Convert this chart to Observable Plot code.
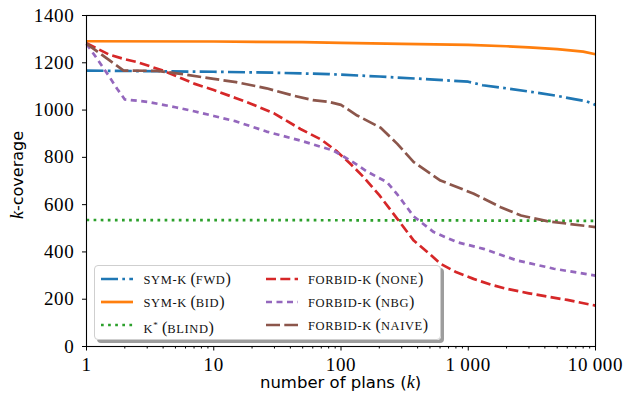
<!DOCTYPE html>
<html><head><meta charset="utf-8">
<script src="https://cdn.jsdelivr.net/npm/d3@7"></script>
<script src="https://cdn.jsdelivr.net/npm/@observablehq/plot@0.6"></script>
<style>
body{margin:0;background:#fff;}
#wrap{position:relative;width:624px;height:403px;overflow:hidden;}
#wrap > svg{position:absolute;left:0;top:0;}
#wrap > svg g[aria-label$="tick label"] text{letter-spacing:0.7px;}
.xlab{position:absolute;left:0;width:681px;top:372px;text-align:center;font-family:"DejaVu Sans";font-size:16.5px;line-height:20px;color:#000;}
.ylab{position:absolute;left:17px;top:175px;transform:translate(-50%,-50%) rotate(-90deg);white-space:nowrap;font-family:"DejaVu Sans";font-size:16px;line-height:20px;color:#000;}
.mk{font-family:"Liberation Serif";font-style:italic;font-size:18px;}
#legend{position:absolute;left:94px;top:265px;width:345px;height:73px;border:1px solid #cfcfcf;border-radius:4px;background:rgba(255,255,255,0.85);box-shadow:3px 3px 0 #9d9d9d;}
.item{position:absolute;height:20px;}
.item svg{position:absolute;left:0;top:7px;}
.item span.t{position:absolute;top:0;white-space:nowrap;font-family:"Liberation Serif";font-size:12.5px;letter-spacing:0.6px;line-height:20px;color:#111;}
.item span.p{font-size:16px;letter-spacing:0;}
</style></head><body><div id="wrap"></div>
<script>
// ---- data ----
const symFwdK = [1, 10, 30, 80, 200, 500, 1000, 1300, 2000, 3300, 5000, 6800, 8500, 10000];
const symFwdV = [1167, 1162, 1158, 1152, 1142, 1130, 1120, 1105, 1092, 1075, 1060, 1046, 1037, 1022];

const symBidK = [1, 10, 50, 100, 300, 1000, 2000, 3000, 5000, 8000, 10000];
const symBidV = [1291, 1290, 1287, 1284, 1280, 1276, 1270, 1265, 1258, 1247, 1236];

const blindK = [1, 100, 1000, 10000];
const blindV = [535, 534, 533, 531];

const noneK = [1, 1.5, 2, 2.5, 4, 7, 10, 15, 20, 30, 48, 70, 93, 120, 151, 200, 277, 373, 500, 605, 800, 1100, 1500, 2000, 3000, 4400, 6000, 10000];
const noneV = [1283, 1235, 1215, 1203, 1167, 1112, 1085, 1050, 1025, 985, 920, 875, 825, 770, 716, 640, 540, 448, 390, 350, 315, 286, 262, 244, 225, 209, 197, 173];

const nbgK = [1, 1.2, 1.5, 1.74, 2, 3, 5, 7, 10, 15, 26, 48, 87, 100, 120, 160, 230, 280, 373, 535, 820, 1320, 2420, 4700, 10000];
const nbgV = [1280, 1220, 1144, 1090, 1045, 1035, 1012, 995, 975, 952, 909, 871, 829, 810, 785, 740, 695, 640, 550, 484, 441, 413, 364, 329, 300];

const naiveK = [1, 1.5, 1.96, 3.6, 5.5, 10, 15, 26, 43, 60, 80, 100, 134, 205, 277, 373, 605, 1106, 1800, 2600, 4170, 10000];
const naiveV = [1281, 1212, 1167, 1166, 1153, 1132, 1118, 1092, 1060, 1042, 1035, 1022, 977, 925, 857, 780, 702, 646, 589, 554, 530, 505];

const seriesNames = ["SYM-K|FWD", "SYM-K|BID", "K*|BLIND", "FORBID-K|NONE", "FORBID-K|NBG", "FORBID-K|NAIVE"];
const seriesColors = ["#1f77b4", "#ff7f0e", "#2ca02c", "#d62728", "#9467bd", "#8c564b"];
const seriesDash = ["17,4.3,2.7,4.3", "none", "2.7,4.4", "10,4.3", "6,4.5", "14,4.3"];

const yTicks = [0, 200, 400, 600, 800, 1000, 1200, 1400];
const xTicks = [1, 10, 100, 1000, 10000];
const xTickLabels = ["1", "10", "100", "1\u2009000", "10\u2009000"];
const xMinor = [2,3,4,5,6,7,8,9,20,30,40,50,60,70,80,90,200,300,400,500,600,700,800,900,2000,3000,4000,5000,6000,7000,8000,9000];

// ---- build ----
const ks = [symFwdK, symBidK, blindK, noneK, nbgK, naiveK];
const vs = [symFwdV, symBidV, blindV, noneV, nbgV, naiveV];
const tables = ks.map((kArr, i) => kArr.map((k, j) => ({k, v: vs[i][j]})));
const xLabelMap = new Map(xTicks.map((t, i) => [t, xTickLabels[i]]));

const chart = Plot.plot({
  width: 624, height: 403,
  marginLeft: 86, marginRight: 29, marginTop: 15, marginBottom: 57,
  x: {type: "log", domain: [1, 10000]},
  y: {domain: [0, 1400]},
  style: {fontFamily: "Liberation Serif", fontSize: "19px", background: "white", color: "#000", overflow: "visible"},
  marks: [
    ...tables.map((t, i) => Plot.line(t, {
      x: "k", y: "v", stroke: seriesColors[i], strokeWidth: 2.7,
      strokeDasharray: seriesDash[i] === "none" ? undefined : seriesDash[i],
      strokeLinecap: "butt", strokeLinejoin: "round"
    })),
    Plot.frame({stroke: "#000", strokeWidth: 1.1}),
    Plot.axisY({ticks: yTicks, tickSize: 4, tickPadding: 8, label: null, tickFormat: d => String(d)}),
    Plot.axisX({ticks: xTicks, tickSize: 4.5, tickPadding: 6, label: null, tickFormat: d => xLabelMap.get(d)}),
    Plot.axisX({ticks: xMinor, tickSize: 2.5, label: null, tickFormat: () => ""})
  ]
});

const wrap = document.getElementById("wrap");
wrap.appendChild(chart);

const xl = document.createElement("div");
xl.className = "xlab";
xl.innerHTML = 'number of plans (<span class="mk">k</span>)';
wrap.appendChild(xl);

const yl = document.createElement("div");
yl.className = "ylab";
yl.innerHTML = '<span class="mk">k</span>-coverage';
wrap.appendChild(yl);

// legend
const legend = document.createElement("div");
legend.id = "legend";
const colX = [6, 171], textX = [48.5, 213], rowY = [2.5, 25.5, 49];
seriesNames.forEach((name, i) => {
  const col = Math.floor(i / 3), row = i % 3;
  const [a, b] = name.split("|");
  const it = document.createElement("div");
  it.className = "item";
  it.style.left = colX[col] + "px";
  it.style.top = rowY[row] + "px";
  const dash = seriesDash[i] === "none" ? "" : `stroke-dasharray="${seriesDash[i]}"`;
  const label = a === "K*" ? 'K<sup style="font-size:9px;vertical-align:5px">*</sup>' : a;
  it.innerHTML = `<svg width="34" height="6"><line x1="0" y1="3" x2="32" y2="3" stroke="${seriesColors[i]}" stroke-width="2.7" ${dash}/></svg>` +
    `<span class="t" style="left:${textX[col] - colX[col]}px">${label} <span class="p">(</span>${b}<span class="p">)</span></span>`;
  legend.appendChild(it);
});
wrap.appendChild(legend);
</script>
</body></html>
